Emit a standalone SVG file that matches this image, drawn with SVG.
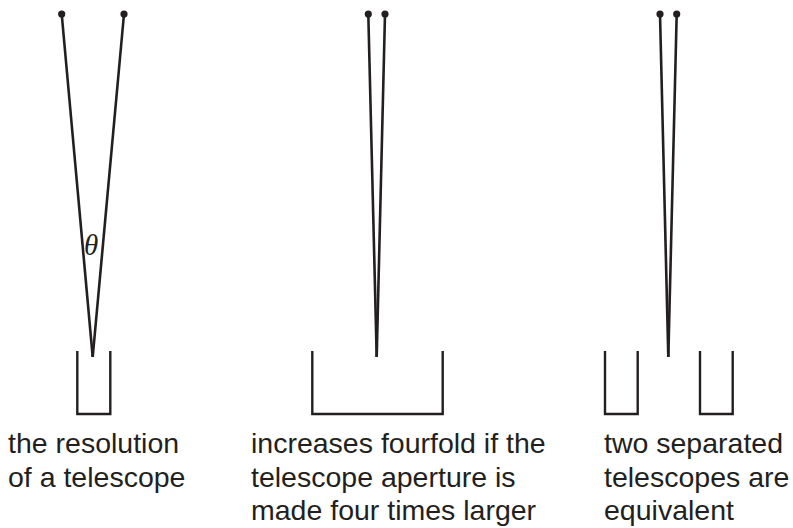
<svg xmlns="http://www.w3.org/2000/svg" width="793" height="528" viewBox="0 0 793 528">
<style>
.ln{stroke:#231f20;stroke-width:2.6;fill:none;stroke-linecap:butt}
.cup{stroke:#231f20;stroke-width:2.4;fill:none}
.dot{fill:#231f20}
.lbl{font-family:"Liberation Sans",Arial,sans-serif;font-size:28.5px;fill:#231f20}
.th{font-family:"Liberation Serif","Times New Roman",serif;font-style:italic;font-size:29px;fill:#231f20}
</style>
<rect width="793" height="528" fill="#fff"/>
<g id="panel1">
<g id="rays1">
<line class="ln" x1="61.7" y1="14" x2="92.7" y2="357"/>
<line class="ln" x1="124" y1="14" x2="92.7" y2="357"/>
</g>
<circle class="dot" cx="61.7" cy="14" r="3.6"/>
<circle class="dot" cx="124" cy="14" r="3.6"/>
<text class="th" x="84" y="255">θ</text>
<path class="cup" d="M77.3,351 V414 H110.3 V351"/>
<text class="lbl" x="8" y="453">the resolution</text>
<text class="lbl" x="8" y="486.5">of a telescope</text>
</g>
<g id="panel2">
<g id="rays2">
<line class="ln" x1="368.3" y1="14" x2="376.7" y2="357"/>
<line class="ln" x1="385" y1="14" x2="376.7" y2="357"/>
</g>
<circle class="dot" cx="368.3" cy="14" r="3.6"/>
<circle class="dot" cx="385" cy="14" r="3.6"/>
<path class="cup" d="M312.3,351 V414 H442.7 V351"/>
<text class="lbl" x="251" y="453">increases fourfold if the</text>
<text class="lbl" x="251" y="486.5">telescope aperture is</text>
<text class="lbl" x="251" y="520">made four times larger</text>
</g>
<g id="panel3">
<g id="rays3">
<line class="ln" x1="660" y1="14" x2="668.3" y2="357"/>
<line class="ln" x1="676.7" y1="14" x2="668.3" y2="357"/>
</g>
<circle class="dot" cx="660" cy="14" r="3.6"/>
<circle class="dot" cx="676.7" cy="14" r="3.6"/>
<path class="cup" d="M605,351 V414 H637.7 V351"/>
<path class="cup" d="M700,351 V414 H732.7 V351"/>
<text class="lbl" x="604" y="453">two separated</text>
<text class="lbl" x="604" y="486.5">telescopes are</text>
<text class="lbl" x="604" y="520">equivalent</text>
</g>
</svg>
